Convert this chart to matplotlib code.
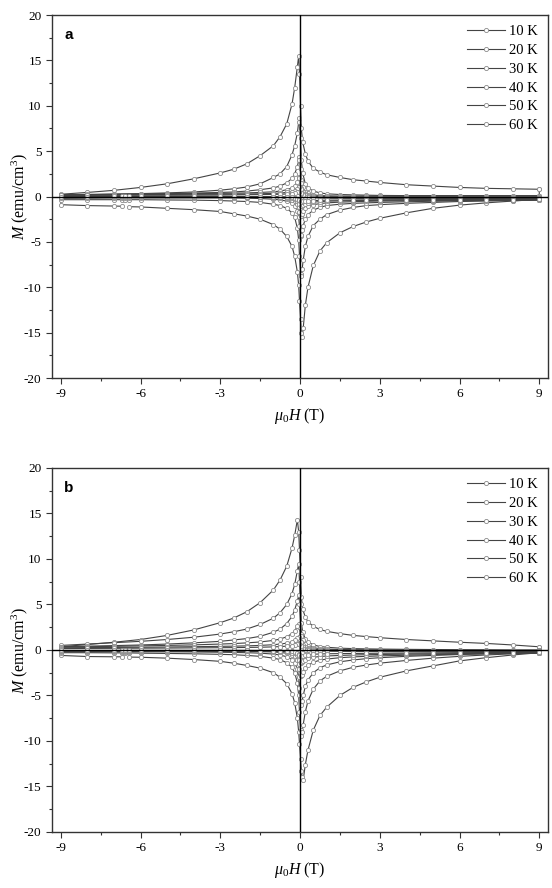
import numpy as np
import matplotlib
matplotlib.use("Agg")
import matplotlib.pyplot as plt
from matplotlib.ticker import MultipleLocator

nan = np.nan

# ---- data -------------------------------------------------------------
TEMPS = ["10 K", "20 K", "30 K", "40 K", "50 K", "60 K"]

# field grid of the decreasing branch (+9 -> -9) and of the increasing branch (-9 -> +9)
H_UP = [9, 8, 7, 6, 5, 4, 3, 2.5, 2, 1.5, 1, 0.75, 0.5, 0.3, 0.2, 0.1, 0.05, 0.02,
        -0.02, -0.05, -0.1, -0.2, -0.3, -0.5, -0.75, -1, -1.5, -2, -2.5, -3,
        -4, -5, -6, -7, -8, -9]
H_DN = [-9, -8, -7, -6.7, -6.6, -6.45, -6, -5, -4, -3, -2.5, -2, -1.5, -1, -0.75,
        -0.5, -0.3, -0.2, -0.1, -0.05, -0.02, 0.02, 0.05, 0.08, 0.12, 0.2, 0.3,
        0.5, 0.75, 1, 1.5, 2, 2.5, 3, 4, 5, 6, 7, 8, 9]

# panel a
A10_UP = [0.8, 0.85, 0.9, 1.0, 1.15, 1.3, 1.55, 1.7, 1.85, 2.1, 2.4, 2.7, 3.1, 3.9, 4.7, 6.0, 7.5, 10.0,
          13.5, 15.5, 14.3, 12.0, 10.2, 8.0, 6.6, 5.6, 4.5, 3.6, 3.0, 2.6, 1.95, 1.4, 1.0, 0.68, 0.45, 0.25]
A20_UP = [0.1, 0.1, 0.1, 0.1, 0.1, 0.1, 0.12, 0.15, 0.18, 0.22, 0.3, 0.4, 0.6, 0.95, 1.4, 2.6, 4.0, 6.5,
          8.6, 8.2, 7.0, 5.6, 4.6, 3.3, 2.5, 2.1, 1.4, 1.05, 0.85, 0.7, 0.5, 0.4, 0.32, 0.25, 0.2, 0.15]
A30_UP = [0.05, 0.05, 0.05, 0.05, 0.05, 0.05, 0.05, 0.05, 0.05, 0.05, 0.08, 0.1, 0.2, 0.35, 0.55, 1.0, 1.8, 3.0,
          4.3, 4.0, 3.3, 2.5, 2.0, 1.5, 1.15, 0.95, 0.75, 0.6, 0.5, 0.45, 0.38, 0.32, 0.28, 0.25, 0.22, 0.2]
A40_UP = [-0.05, -0.05, -0.05, -0.05, -0.05, -0.05, -0.05, -0.05, -0.05, -0.05, -0.03, 0.0, 0.05, 0.15, 0.25, 0.5, 0.9, 1.5,
          2.2, 2.0, 1.6, 1.2, 0.95, 0.75, 0.6, 0.52, 0.45, 0.4, 0.37, 0.35, 0.32, 0.3, 0.28, 0.25, 0.23, 0.2]
A50_UP = [-0.15, -0.15, -0.15, -0.15, -0.15, -0.15, -0.15, -0.14, -0.14, -0.13, -0.12, -0.1, -0.05, 0.05, 0.12, 0.3, 0.5, 0.8,
          1.05, 1.0, 0.85, 0.65, 0.55, 0.45, 0.38, 0.35, 0.3, 0.28, 0.27, 0.26, 0.25, 0.23, 0.22, 0.2, 0.18, 0.16]
A60_UP = [-0.22, -0.22, -0.22, -0.22, -0.22, -0.21, -0.2, -0.2, -0.2, -0.19, -0.18, -0.16, -0.12, -0.05, 0.0, 0.12, 0.25, 0.4,
          0.52, 0.5, 0.45, 0.38, 0.33, 0.28, 0.25, 0.23, 0.21, 0.2, 0.19, 0.18, 0.17, 0.16, 0.15, 0.14, 0.13, 0.12]

A10_DN = [-0.9, -1.0, -1.05, -1.07, nan, -1.12, -1.15, -1.3, -1.45, -1.65, -1.9, -2.15, -2.5, -3.1, -3.6, -4.4, -5.5,
          -6.6, -8.3, -9.8, -11.5, -13.5, -15.0, -15.5, -14.5, -12.0, -10.0, -7.6, -6.0, -5.1,
          -4.0, -3.3, -2.8, -2.4, -1.8, -1.3, -0.95, -0.7, -0.5, -0.3]
A20_DN = [-0.35, -0.35, -0.35, -0.35, -0.35, -0.35, -0.35, -0.38, -0.4, -0.45, -0.5, -0.55, -0.65, -0.85, -1.0, -1.3, -1.8,
          -2.3, -3.5, -4.8, -6.5, -8.5, -8.8, -8.0, -7.0, -5.5, -4.4, -3.2, -2.5, -2.0,
          -1.5, -1.2, -1.0, -0.9, -0.75, -0.65, -0.55, -0.5, -0.45, -0.4]
A30_DN = [-0.2, -0.18, -0.15, -0.15, -0.15, -0.15, -0.15, -0.15, -0.15, -0.15, -0.15, -0.18, -0.22, -0.3, -0.38, -0.5, -0.75,
          -1.0, -1.6, -2.3, -3.3, -4.4, -4.2, -3.7, -3.2, -2.5, -2.0, -1.5, -1.2, -1.0,
          -0.85, -0.75, -0.7, -0.65, -0.58, -0.52, -0.47, -0.43, -0.4, -0.38]
A40_DN = [-0.1, -0.08, -0.06, -0.06, -0.06, -0.06, -0.05, -0.05, -0.05, -0.05, -0.05, -0.06, -0.08, -0.12, -0.15, -0.22, -0.35,
          -0.5, -0.8, -1.2, -1.7, -2.2, -2.1, -1.9, -1.6, -1.3, -1.1, -0.9, -0.78, -0.7,
          -0.62, -0.57, -0.53, -0.5, -0.47, -0.44, -0.42, -0.4, -0.38, -0.36]
A50_DN = [-0.05, -0.04, -0.03, -0.03, -0.03, -0.03, -0.02, -0.01, 0.0, 0.0, -0.01, -0.02, -0.04, -0.06, -0.08, -0.12, -0.2,
          -0.28, -0.45, -0.65, -0.85, -1.05, -1.05, -1.0, -0.9, -0.8, -0.72, -0.62, -0.56, -0.52,
          -0.48, -0.45, -0.43, -0.42, -0.4, -0.39, -0.38, -0.37, -0.36, -0.35]
A60_DN = [0.0, 0.0, 0.01, 0.01, 0.01, 0.01, 0.01, 0.02, 0.02, 0.02, 0.01, 0.0, -0.01, -0.02, -0.03, -0.05, -0.1,
          -0.14, -0.22, -0.32, -0.42, -0.52, -0.55, -0.55, -0.52, -0.5, -0.47, -0.44, -0.42, -0.4,
          -0.39, -0.38, -0.37, -0.36, -0.35, -0.34, -0.34, -0.33, -0.33, -0.32]

# panel b
B10_UP = [0.35, 0.55, 0.72, 0.85, 1.0, 1.15, 1.35, 1.47, 1.6, 1.8, 2.05, 2.25, 2.6, 3.1, 3.6, 4.5, 5.8, 8.0,
          11.0, 13.0, 14.3, 12.6, 11.2, 9.2, 7.7, 6.6, 5.2, 4.2, 3.5, 3.0, 2.2, 1.6, 1.15, 0.85, 0.6, 0.35]
B20_UP = [0.0, 0.0, 0.02, 0.03, 0.05, 0.07, 0.1, 0.12, 0.15, 0.2, 0.3, 0.38, 0.55, 0.9, 1.2, 2.0, 3.0, 5.0,
          7.5, 9.5, 8.7, 7.2, 6.2, 5.0, 4.1, 3.5, 2.8, 2.3, 2.0, 1.75, 1.4, 1.15, 0.95, 0.8, 0.65, 0.5]
B30_UP = [-0.05, -0.05, -0.05, -0.05, -0.05, -0.03, 0.0, 0.0, 0.02, 0.05, 0.1, 0.15, 0.25, 0.45, 0.65, 1.1, 1.8, 3.0,
          5.0, 6.0, 5.4, 4.4, 3.7, 2.9, 2.3, 1.95, 1.5, 1.25, 1.1, 0.95, 0.78, 0.65, 0.55, 0.48, 0.42, 0.35]
B40_UP = [-0.1, -0.1, -0.1, -0.1, -0.1, -0.08, -0.06, -0.05, -0.04, -0.02, 0.0, 0.03, 0.08, 0.18, 0.28, 0.5, 0.85, 1.5,
          2.5, 2.9, 2.6, 2.1, 1.8, 1.45, 1.2, 1.05, 0.88, 0.78, 0.7, 0.65, 0.56, 0.5, 0.45, 0.4, 0.36, 0.32]
B50_UP = [-0.15, -0.15, -0.15, -0.15, -0.14, -0.13, -0.12, -0.11, -0.1, -0.08, -0.06, -0.04, 0.0, 0.08, 0.15, 0.3, 0.5, 0.85,
          1.25, 1.4, 1.3, 1.05, 0.9, 0.75, 0.65, 0.58, 0.5, 0.45, 0.42, 0.4, 0.36, 0.33, 0.3, 0.28, 0.26, 0.24]
B60_UP = [-0.2, -0.2, -0.2, -0.2, -0.19, -0.18, -0.17, -0.16, -0.15, -0.14, -0.12, -0.1, -0.07, -0.02, 0.03, 0.12, 0.25, 0.45,
          0.65, 0.7, 0.65, 0.55, 0.48, 0.42, 0.37, 0.34, 0.3, 0.28, 0.26, 0.25, 0.23, 0.21, 0.2, 0.18, 0.17, 0.16]

B10_DN = [-0.6, -0.72, -0.75, -0.75, nan, -0.78, -0.8, -0.9, -1.05, -1.25, -1.45, -1.7, -2.0, -2.5, -3.0, -3.7, -4.8,
          -5.8, -7.5, -9.0, -10.3, -12.0, -13.3, -14.0, -14.3, -12.6, -11.0, -8.8, -7.2, -6.3,
          -5.0, -4.1, -3.5, -3.0, -2.3, -1.75, -1.2, -0.85, -0.55, -0.3]
B20_DN = [-0.3, -0.3, -0.32, -0.32, -0.32, -0.32, -0.35, -0.38, -0.42, -0.48, -0.52, -0.6, -0.7, -0.9, -1.05, -1.4, -1.9,
          -2.5, -3.6, -5.0, -6.8, -8.8, -9.4, -9.0, -8.2, -6.8, -5.6, -4.3, -3.4, -2.9,
          -2.3, -1.9, -1.65, -1.45, -1.15, -0.9, -0.7, -0.55, -0.42, -0.3]
B30_DN = [-0.2, -0.2, -0.2, -0.2, -0.2, -0.2, -0.2, -0.2, -0.22, -0.25, -0.27, -0.3, -0.35, -0.45, -0.55, -0.75, -1.05,
          -1.4, -2.1, -3.0, -4.2, -5.6, -6.0, -5.6, -5.0, -4.0, -3.3, -2.5, -1.95, -1.65,
          -1.3, -1.1, -0.95, -0.85, -0.7, -0.6, -0.5, -0.42, -0.36, -0.3]
B40_DN = [-0.15, -0.15, -0.15, -0.15, -0.15, -0.15, -0.15, -0.15, -0.15, -0.15, -0.15, -0.15, -0.18, -0.22, -0.27, -0.36, -0.52,
          -0.7, -1.05, -1.5, -2.1, -2.7, -2.9, -2.7, -2.4, -2.0, -1.7, -1.35, -1.12, -1.0,
          -0.85, -0.76, -0.7, -0.65, -0.58, -0.52, -0.47, -0.42, -0.38, -0.34]
B50_DN = [-0.1, -0.1, -0.1, -0.1, -0.1, -0.1, -0.1, -0.1, -0.1, -0.1, -0.1, -0.1, -0.11, -0.13, -0.15, -0.2, -0.28,
          -0.36, -0.55, -0.75, -1.05, -1.3, -1.4, -1.35, -1.2, -1.05, -0.92, -0.8, -0.72, -0.66,
          -0.6, -0.55, -0.52, -0.5, -0.46, -0.43, -0.4, -0.37, -0.35, -0.33]
B60_DN = [-0.05, -0.05, -0.05, -0.05, -0.05, -0.05, -0.05, -0.05, -0.05, -0.05, -0.05, -0.05, -0.06, -0.07, -0.08, -0.1, -0.15,
          -0.2, -0.3, -0.42, -0.55, -0.65, -0.7, -0.68, -0.63, -0.57, -0.52, -0.47, -0.44, -0.42,
          -0.4, -0.38, -0.37, -0.36, -0.35, -0.34, -0.33, -0.32, -0.31, -0.3]

PANEL_A_UP = [A10_UP, A20_UP, A30_UP, A40_UP, A50_UP, A60_UP]
PANEL_A_DN = [A10_DN, A20_DN, A30_DN, A40_DN, A50_DN, A60_DN]
PANEL_B_UP = [B10_UP, B20_UP, B30_UP, B40_UP, B50_UP, B60_UP]
PANEL_B_DN = [B10_DN, B20_DN, B30_DN, B40_DN, B50_DN, B60_DN]

X_TICKS = [-9, -6, -3, 0, 3, 6, 9]
Y_TICKS = [-20, -15, -10, -5, 0, 5, 10, 15, 20]

# ---- style ------------------------------------------------------------
plt.rcParams['font.family'] = ['Liberation Serif', 'DejaVu Serif']
plt.rcParams['mathtext.fontset'] = 'custom'
plt.rcParams['mathtext.rm'] = 'Liberation Serif'
plt.rcParams['mathtext.it'] = 'Liberation Serif:italic'
plt.rcParams['axes.unicode_minus'] = False

fig = plt.figure(figsize=(5.52, 8.88), dpi=100)
ax_a = fig.add_axes([0.0942, 0.5743, 0.8986, 0.4088])
ax_b = fig.add_axes([0.0942, 0.0631, 0.8986, 0.4099])


def draw_panel(ax, ups, dns, letter):
    for lab, up, dn in zip(TEMPS, ups, dns):
        h = np.array(H_UP + H_DN + [H_UP[0]], dtype=float)
        m = np.array(up + dn + [up[0]], dtype=float)
        ax.plot(h, m, color='#444444', lw=0.8, marker='o', ms=3.0,
                mfc='white', mec='#8a8a8a', mew=0.6, label=lab, zorder=2)
    ax.axhline(0, color='black', lw=1.0, zorder=3)
    ax.axvline(0, color='black', lw=1.0, zorder=3)
    ax.set_xlim(-9.33, 9.33)
    ax.set_ylim(-20, 20)
    ax.set_xticks(X_TICKS)
    ax.set_yticks(Y_TICKS)
    ax.xaxis.set_minor_locator(MultipleLocator(1.5))
    ax.yaxis.set_minor_locator(MultipleLocator(2.5))
    ax.tick_params(which='both', direction='out', top=False, right=False,
                   labelsize=9.5, color='#333333')
    ax.tick_params(which='major', length=4, width=0.8)
    ax.tick_params(which='minor', length=2.5, width=0.8)
    for s in ax.spines.values():
        s.set_linewidth(1.0)
        s.set_color('#333333')
    ax.set_xlabel(r'$\mu_0H$ (T)', fontsize=11.5, labelpad=4)
    ax.set_ylabel(r'$M$ (emu/cm$^3$)', fontsize=11.5)
    ax.yaxis.set_label_coords(-0.045, 0.5)
    ax.text(0.025, 0.965, letter, transform=ax.transAxes, ha='left', va='top',
            fontsize=11, fontweight='bold', family='Liberation Sans')
    ax.legend(loc='upper right', frameon=False, fontsize=10.5, numpoints=1,
              handlelength=2.6, handletextpad=0.3, labelspacing=0.38,
              borderaxespad=0.3)


draw_panel(ax_a, PANEL_A_UP, PANEL_A_DN, 'a')
draw_panel(ax_b, PANEL_B_UP, PANEL_B_DN, 'b')

fig.savefig('out.png', dpi=100)
